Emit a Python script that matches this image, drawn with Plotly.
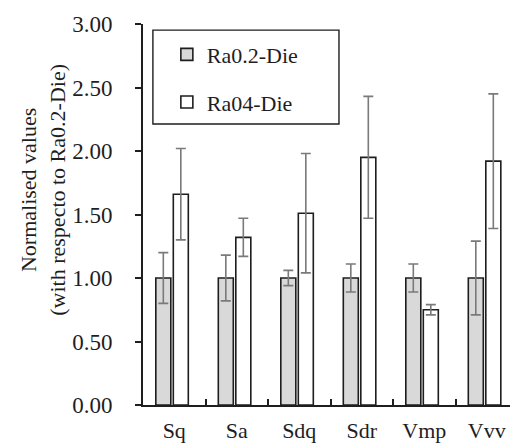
import plotly.graph_objects as go

# Surface parameters and normalised values (Ra0.2-Die = 1)
categories = ["Sq", "Sa", "Sdq", "Sdr", "Vmp", "Vvv"]
ra02_values = [1.00, 1.00, 1.00, 1.00, 1.00, 1.00]
ra02_errors = [0.20, 0.18, 0.06, 0.11, 0.11, 0.29]
ra04_values = [1.66, 1.32, 1.51, 1.95, 0.75, 1.92]
ra04_errors = [0.36, 0.15, 0.47, 0.48, 0.04, 0.53]
y_ticks = [0.0, 0.5, 1.0, 1.5, 2.0, 2.5, 3.0]
y_tick_labels = ["0.00", "0.50", "1.00", "1.50", "2.00", "2.50", "3.00"]

FONT = "Liberation Serif"
INK = "#1e1e1e"

fig = go.Figure()
fig.add_trace(go.Bar(
    x=categories, y=ra02_values, name="Ra0.2-Die", legendgroup="a",
    width=0.24, offset=-0.295,
    marker=dict(color="#d9d9d9", line=dict(color=INK, width=1.6)),
    error_y=dict(type="data", array=ra02_errors, symmetric=True,
                 color="#7a7a7a", thickness=1.6, width=5),
))
fig.add_trace(go.Bar(
    x=categories, y=ra04_values, name="Ra04-Die", legendgroup="b",
    width=0.24, offset=-0.015,
    marker=dict(color="#ffffff", line=dict(color=INK, width=1.6)),
    error_y=dict(type="data", array=ra04_errors, symmetric=True,
                 color="#7a7a7a", thickness=1.6, width=5),
))

# Legend frame
fig.add_shape(type="rect", xref="paper", yref="paper",
              x0=0.027, x1=0.534, y0=0.7375, y1=0.984,
              line=dict(color=INK, width=1.4), fillcolor="rgba(0,0,0,0)")

# Two-line y-axis title
fig.add_annotation(
    xref="paper", yref="paper", x=-0.2725, y=0.565, xanchor="center", yanchor="middle",
    text="Normalised values<br>(with respecto to Ra0.2-Die)", textangle=-90,
    showarrow=False, font=dict(family=FONT, size=22, color=INK),
)

fig.update_layout(
    width=510, height=446,
    margin=dict(l=143, r=0, t=24, b=41),
    paper_bgcolor="white", plot_bgcolor="white",
    barmode="overlay",
    showlegend=True,
    legend=dict(x=0.065, y=0.975, xanchor="left", yanchor="top",
                bgcolor="rgba(0,0,0,0)", borderwidth=0,
                tracegroupgap=16,
                font=dict(family=FONT, size=22, color=INK)),
    font=dict(family=FONT, size=22, color=INK),
)
fig.update_xaxes(
    type="category", range=[-0.5, 5.372],
    showline=True, linecolor=INK, linewidth=1.6,
    tickson="boundaries", ticks="inside", ticklen=6, tickcolor=INK, tickwidth=1.6,
    ticklabelstandoff=5,
    showgrid=False, zeroline=False,
    tickfont=dict(family=FONT, size=22, color=INK),
)
fig.update_yaxes(
    range=[0, 3], tickvals=y_ticks, ticktext=y_tick_labels,
    showline=True, linecolor=INK, linewidth=1.6,
    ticks="outside", ticklen=6, tickcolor=INK, tickwidth=1.6,
    ticklabelstandoff=18, showgrid=False, zeroline=False,
    tickfont=dict(family=FONT, size=23, color=INK),
)

fig.write_html("out.html")
